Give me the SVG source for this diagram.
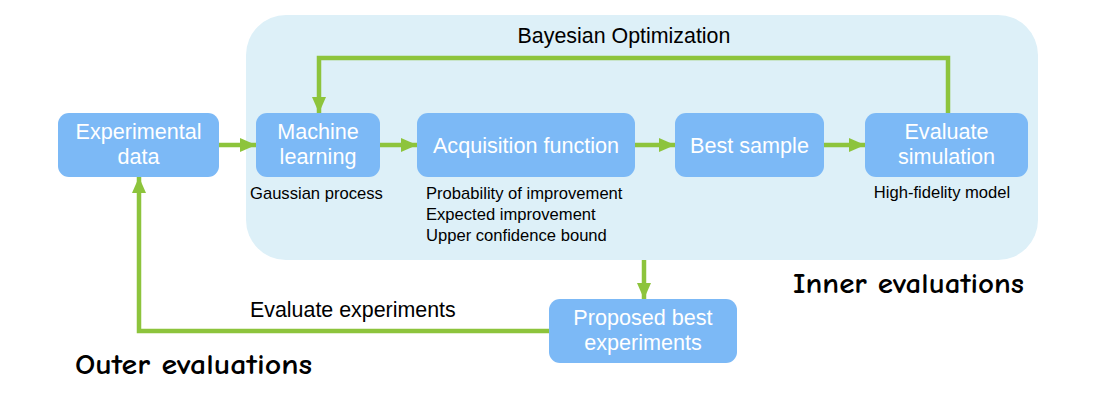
<svg xmlns="http://www.w3.org/2000/svg" width="1104" height="408" viewBox="0 0 1104 408">
<style>
.node{fill:#7cb9f6}
.lbl{font-family:"Liberation Sans",Arial,sans-serif;font-size:21.6px;fill:#ffffff;text-anchor:middle}
.sm{font-family:"Liberation Sans",Arial,sans-serif;font-size:16.6px;fill:#000000}
.md{font-family:"Liberation Sans",Arial,sans-serif;font-size:21.4px;fill:#000000}
.comic{font-family:"Comic Sans MS","Comic Neue","DejaVu Sans",sans-serif;font-size:29px;font-weight:bold;fill:#000000}
.conn{fill:none;stroke:#8dc43c;stroke-width:4.5}
</style>
<defs>
<marker id="ah" markerUnits="userSpaceOnUse" markerWidth="16" markerHeight="16" viewBox="0 0 16 16" refX="16" refY="8" orient="auto">
<path d="M0,1 L16,8 L0,15 Z" fill="#8dc43c"/>
</marker>
</defs>
<rect x="246" y="15" width="792" height="245" rx="40" fill="#ddf0f8"/>
<text class="md" x="624" y="43" text-anchor="middle">Bayesian Optimization</text>
<g id="connectors">
<path class="conn" d="M219,145 H256" marker-end="url(#ah)"/>
<path class="conn" d="M380,145 H417" marker-end="url(#ah)"/>
<path class="conn" d="M635,145 H675" marker-end="url(#ah)"/>
<path class="conn" d="M824,145 H865" marker-end="url(#ah)"/>
<path class="conn" d="M948,113 V58 H319 V113" marker-end="url(#ah)"/>
<path class="conn" d="M644,260 V299" marker-end="url(#ah)"/>
<path class="conn" d="M549,331 H139 V177" marker-end="url(#ah)"/>
</g>
<g id="experimental-data">
<rect class="node" x="58" y="113" width="161" height="64" rx="11"/>
<text class="lbl" x="138.5" y="139">Experimental</text>
<text class="lbl" x="138.5" y="164">data</text>
</g>
<g id="machine-learning">
<rect class="node" x="256" y="113" width="124" height="64" rx="11"/>
<text class="lbl" x="318" y="139">Machine</text>
<text class="lbl" x="318" y="164">learning</text>
<text class="sm" x="250" y="199">Gaussian process</text>
</g>
<g id="acquisition-function">
<rect class="node" x="417" y="113" width="218" height="64" rx="11"/>
<text class="lbl" x="526" y="153">Acquisition function</text>
<text class="sm" x="426" y="199" font-size="15.9">Probability of improvement</text>
<text class="sm" x="426" y="220" font-size="15.9">Expected improvement</text>
<text class="sm" x="426" y="241" font-size="15.9">Upper confidence bound</text>
</g>
<g id="best-sample">
<rect class="node" x="675" y="113" width="149" height="64" rx="11"/>
<text class="lbl" x="749.5" y="153">Best sample</text>
</g>
<g id="evaluate-simulation">
<rect class="node" x="865" y="113" width="163" height="64" rx="11"/>
<text class="lbl" x="946.5" y="139">Evaluate</text>
<text class="lbl" x="946.5" y="164">simulation</text>
<text class="sm" x="942" y="198" text-anchor="middle">High-fidelity model</text>
</g>
<g id="proposed-best-experiments">
<rect class="node" x="549" y="299" width="188" height="64" rx="11"/>
<text class="lbl" x="643" y="325">Proposed best</text>
<text class="lbl" x="643" y="350">experiments</text>
</g>
<text class="md" x="250" y="317">Evaluate experiments</text>
<text class="comic" x="793" y="293" textLength="231" lengthAdjust="spacingAndGlyphs">Inner evaluations</text>
<text class="comic" x="75" y="374" textLength="237" lengthAdjust="spacingAndGlyphs">Outer evaluations</text>
</svg>
